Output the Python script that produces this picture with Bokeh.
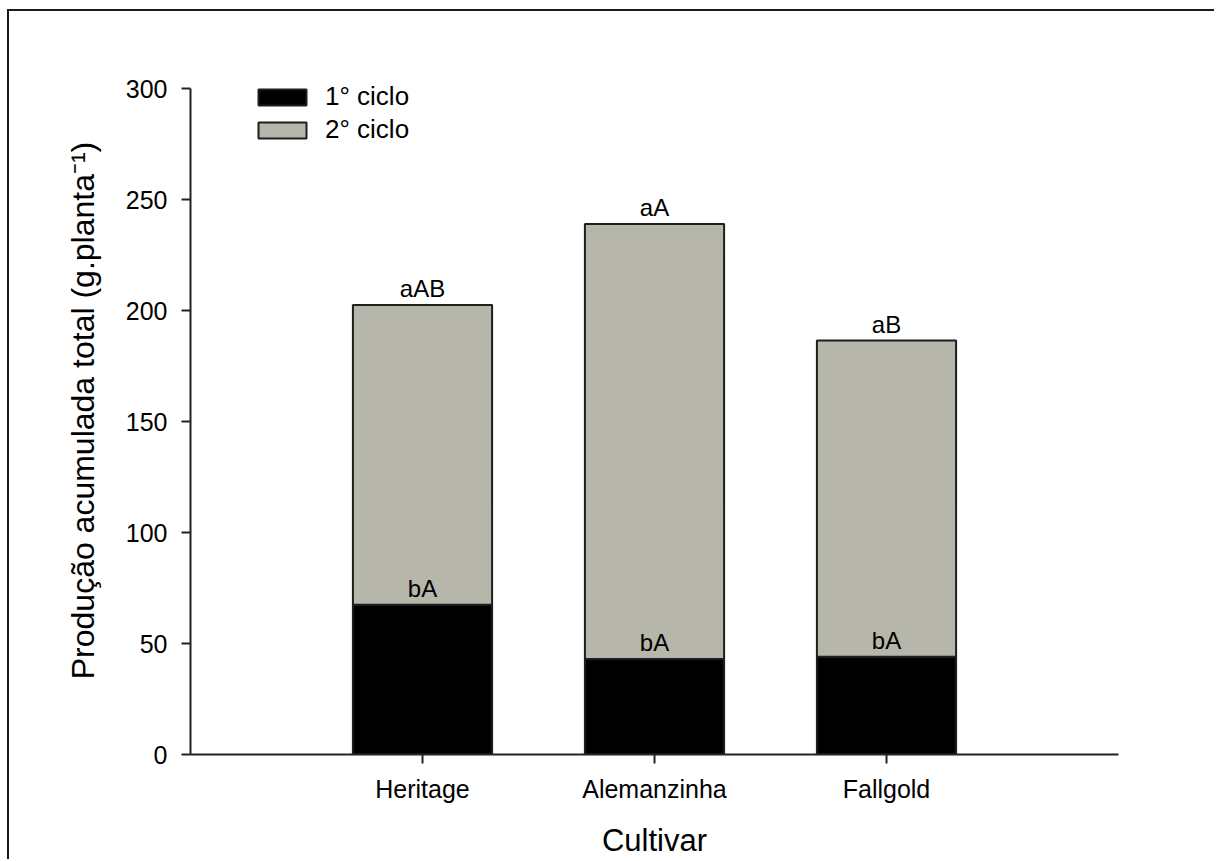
from bokeh.plotting import figure
from bokeh.models import Range1d, FixedTicker, ColumnDataSource
from bokeh.embed import file_html
from bokeh.resources import INLINE
from bokeh.core.properties import value

# Cultivars and accumulated production per cycle (g per plant)
cultivars = ["Heritage", "Alemanzinha", "Fallgold"]
ciclo1 = [67.5, 43.0, 44.0]
ciclo2 = [135.0, 196.0, 142.5]
letters_total = ["aAB", "aA", "aB"]
letters_ciclo1 = ["bA", "bA", "bA"]
y_ticks = [0, 50, 100, 150, 200, 250, 300]

positions = [i + 1 for i in range(len(cultivars))]
totals = [a + b for a, b in zip(ciclo1, ciclo2)]

source = ColumnDataSource(data=dict(
    x=positions, c1=ciclo1, c2=ciclo2, total=totals,
    lt=letters_total, l1=letters_ciclo1,
))

FONT = "Liberation Sans"

# frame reaches a little above 300 so the legend has room; the axis line stops at 300
p = figure(width=1207, height=850, output_backend="svg", toolbar_location=None,
           x_range=Range1d(0, len(cultivars) + 1), y_range=Range1d(0, 310),
           min_border_left=181, min_border_right=98, min_border_top=55, min_border_bottom=107)
p.styles = {"margin-left": "7px", "margin-top": "9px",
            "border-left": "2px solid #1c1c1c", "border-top": "2px solid #1c1c1c"}

p.outline_line_color = None
p.xgrid.visible = False
p.ygrid.visible = False
p.background_fill_color = "white"
p.border_fill_color = "white"

p.vbar_stack(["c1", "c2"], x="x", width=0.6, source=source,
             color=["black", "#b6b6aa"], line_color="#1e1e1e", line_width=2,
             legend_label=["1° ciclo", "2° ciclo"])

p.text(x="x", y="total", text="lt", source=source, text_align="center",
       text_baseline="bottom", y_offset=-3, text_font=value(FONT),
       text_font_size="24px", text_color="black")
p.text(x="x", y="c1", text="l1", source=source, text_align="center",
       text_baseline="bottom", y_offset=-3, text_font=value(FONT),
       text_font_size="24px", text_color="black")

for ax in (p.xaxis[0], p.yaxis[0]):
    ax.axis_line_color = "#222222"
    ax.axis_line_width = 2
    ax.major_tick_line_color = "#222222"
    ax.major_tick_line_width = 2
    ax.major_tick_in = 0
    ax.major_tick_out = 9
    ax.minor_tick_line_color = None
    ax.major_label_text_font = FONT
    ax.major_label_text_font_size = "25px"
    ax.major_label_text_color = "black"
    ax.axis_label_text_font = FONT
    ax.axis_label_text_font_style = "normal"
    ax.axis_label_text_color = "black"

p.yaxis.ticker = FixedTicker(ticks=y_ticks)
p.yaxis.bounds = (0, 300)
p.yaxis.major_label_standoff = 14
p.yaxis.axis_label = "Produção acumulada total (g.planta⁻¹)"
p.yaxis.axis_label_text_font_size = "32px"
p.yaxis.axis_label_standoff = 22

p.xaxis.ticker = FixedTicker(ticks=positions)
p.xaxis.major_label_overrides = {x: name for x, name in zip(positions, cultivars)}
p.xaxis.major_label_standoff = 11
p.xaxis.axis_label = "Cultivar"
p.xaxis.axis_label_text_font_size = "31px"
p.xaxis.axis_label_standoff = 17

leg = p.legend[0]
leg.location = (62, 609)
leg.padding = 0
leg.margin = 0
leg.spacing = 2
leg.glyph_width = 60
leg.glyph_height = 20
leg.label_height = 20
leg.label_standoff = 13
leg.label_text_font = FONT
leg.label_text_font_size = "26px"
leg.label_text_color = "black"
leg.background_fill_alpha = 0
leg.border_line_color = None

open("out.html", "w").write(file_html(p, INLINE))
